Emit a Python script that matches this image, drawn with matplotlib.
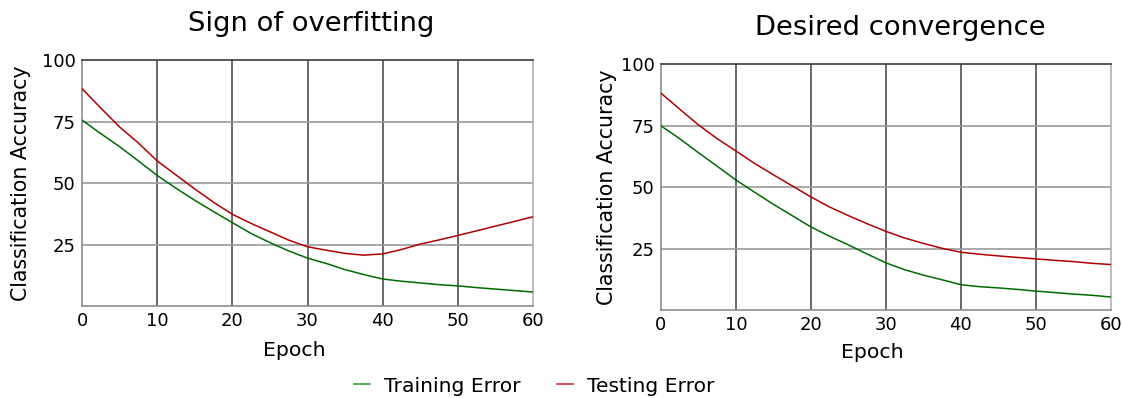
import matplotlib.pyplot as plt
from matplotlib.lines import Line2D

epochs = [0, 2.5, 5, 7.5, 10, 12.5, 15, 17.5, 20, 22.5, 25, 27.5, 30,
          32.5, 35, 37.5, 40, 42.5, 45, 47.5, 50, 52.5, 55, 57.5, 60]

# left panel: testing error turns back up after epoch ~37
overfit_train = [75.6, 70.1, 64.8, 59.0, 53.1, 47.9, 43.0, 38.4, 33.9, 29.5, 25.8, 22.4, 19.5,
                 17.3, 14.8, 12.8, 11.0, 10.1, 9.4, 8.7, 8.2, 7.5, 6.9, 6.3, 5.7]
overfit_test = [88.4, 80.5, 72.8, 66.3, 59.0, 53.3, 47.6, 42.2, 37.3, 33.6, 30.2, 26.8, 24.1,
                22.7, 21.4, 20.7, 21.2, 23.0, 25.2, 26.9, 28.7, 30.6, 32.5, 34.4, 36.3]

# right panel: both curves flatten out
conv_train = [74.9, 69.7, 64.0, 58.5, 52.9, 47.9, 43.0, 38.4, 33.8, 30.0, 26.5, 22.8, 19.2,
              16.4, 14.2, 12.3, 10.3, 9.5, 9.0, 8.4, 7.7, 7.1, 6.5, 6.0, 5.3]
conv_test = [88.2, 81.7, 75.3, 69.7, 64.7, 59.6, 55.0, 50.5, 46.0, 41.9, 38.4, 35.1, 32.0,
             29.3, 27.1, 25.1, 23.5, 22.7, 22.0, 21.4, 20.8, 20.2, 19.7, 19.0, 18.5]

xticks = [0, 10, 20, 30, 40, 50, 60]
yticks = [25, 50, 75, 100]

train_color = '#006a00'
test_color = '#b00000'

fig = plt.figure(figsize=(11.22, 3.98), dpi=100)
ax1 = fig.add_axes([0.0731, 0.231, 0.402, 0.618])
ax2 = fig.add_axes([0.589, 0.221, 0.401, 0.618])


def style_axes(ax, title, title_x, ylabelpad, xlabelpad):
    ax.set_xlim(0, 60)
    ax.set_ylim(0, 100)
    ax.set_xticks(xticks)
    ax.set_yticks(yticks)
    ax.tick_params(length=0, labelsize=13, pad=4.5)
    for x in xticks[1:-1]:
        ax.axvline(x, color='#505050', lw=1.2, zorder=1)
    for y in yticks[:-1]:
        ax.axhline(y, color='#999999', lw=1.2, zorder=1)
    ax.spines['top'].set_color('#3c3c3c')
    ax.spines['left'].set_color('#8c8c8c')
    ax.spines['bottom'].set_color('#8c8c8c')
    ax.spines['right'].set_color('#b0b0b0')
    for s in ax.spines.values():
        s.set_linewidth(1.2)
    ax.set_title(title, fontsize=19.7, pad=21, x=title_x)
    ax.set_xlabel('Epoch', fontsize=14.7, labelpad=xlabelpad, x=0.47)
    ax.set_ylabel('Classification Accuracy', fontsize=14.8, labelpad=ylabelpad)


ax1.plot(epochs, overfit_train, color=train_color, lw=1.1, zorder=3)
ax1.plot(epochs, overfit_test, color=test_color, lw=1.1, zorder=3)
style_axes(ax1, 'Sign of overfitting', 0.507, 7.5, 8)

ax2.plot(epochs, conv_train, color=train_color, lw=1.1, zorder=3)
ax2.plot(epochs, conv_test, color=test_color, lw=1.1, zorder=3)
style_axes(ax2, 'Desired convergence', 0.533, 2.5, 6)

handles = [Line2D([0], [0], color='#3a9a3a', lw=1.2),
           Line2D([0], [0], color='#cc3333', lw=1.2)]
fig.legend(handles, ['Training Error', 'Testing Error'], loc='center',
           bbox_to_anchor=(0.476, 0.03), ncol=2, frameon=False, fontsize=14.6,
           handlelength=0.8, columnspacing=1.77, handletextpad=0.69)

fig.savefig('out.png', dpi=100)
